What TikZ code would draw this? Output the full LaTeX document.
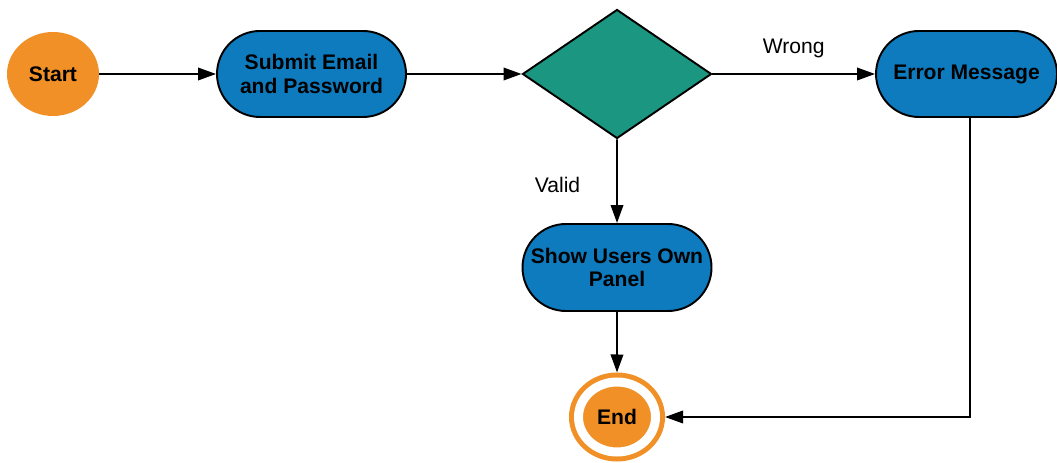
\documentclass[tikz,border=0pt]{standalone}
\usepackage{fontspec}
\setmainfont{Liberation Sans}
\usetikzlibrary{shapes.geometric,shapes.misc,arrows.meta}
\definecolor{orangeA}{RGB}{240,144,38}
\definecolor{bleuA}{RGB}{14,123,190}
\definecolor{vertA}{RGB}{27,150,128}
\begin{document}
\begin{tikzpicture}
		\tikzstyle{trait}=[line width=1.1pt]
		\tikzstyle{fleche}=[line width=1.1pt,-{Triangle[length=0.36cm,width=0.25cm]}]
		\tikzstyle{texte}=[font=\fontsize{12}{13.2}\selectfont\bfseries,align=center]
		\tikzstyle{rond}=[texte,ellipse,fill=orangeA,inner sep=0pt,minimum width=1.84cm,minimum height=1.68cm]
		\tikzstyle{boite}=[texte,rounded rectangle,draw=black,line width=1.1pt,fill=bleuA,inner sep=0pt,minimum width=3.78cm,minimum height=1.72cm]
		\tikzstyle{losange}=[diamond,draw=black,line width=1.1pt,fill=vertA,inner sep=0pt,minimum width=3.78cm,minimum height=2.58cm]
		\tikzstyle{fin}=[texte,ellipse,fill=orangeA,draw=orangeA,line width=0.1cm,double=white,double distance=0.18cm,inner sep=0pt,outer sep=0.19cm,minimum width=1.54cm,minimum height=1.40cm]
		\tikzstyle{etiquette}=[font=\fontsize{12}{13.6}\selectfont]
		\def\NiveauA{7.76}
		\def\NiveauB{3.89}
		\def\NiveauC{0.90}
		\def\Milieu{12.34}
		\useasboundingbox (0,0) rectangle (21.14,9.24);
		\node[rond] (Debut) at (1.06,\NiveauA) {Start};
		\node[boite] (Saisie) at (6.23,\NiveauA) {Submit Email\\and Password};
		\node[losange] (Test) at (\Milieu,\NiveauA) {};
		\node[boite,minimum width=3.62cm] (Erreur) at (19.33,\NiveauA) {Error Message};
		\node[boite,minimum height=1.74cm] (Panneau) at (\Milieu,\NiveauB) {Show Users Own\\Panel};
		\node[fin] (Fin) at (\Milieu,\NiveauC) {End};
		\coordinate (Coin) at (19.40,\NiveauC);
		\draw[fleche] (Debut)--(Saisie);
		\draw[fleche] (Saisie)--(Test);
		\draw[fleche] (Test)--(Erreur) node[etiquette,midway,above=0.18cm] {Wrong};
		\draw[fleche] (Test)--(Panneau) node[etiquette,midway,left=0.6cm,yshift=-0.08cm] {Valid};
		\draw[fleche] (Panneau)--(Fin);
		\draw[fleche] (Erreur.south -| Coin)--(Coin)--(Fin);
	\end{tikzpicture}
\end{document}
